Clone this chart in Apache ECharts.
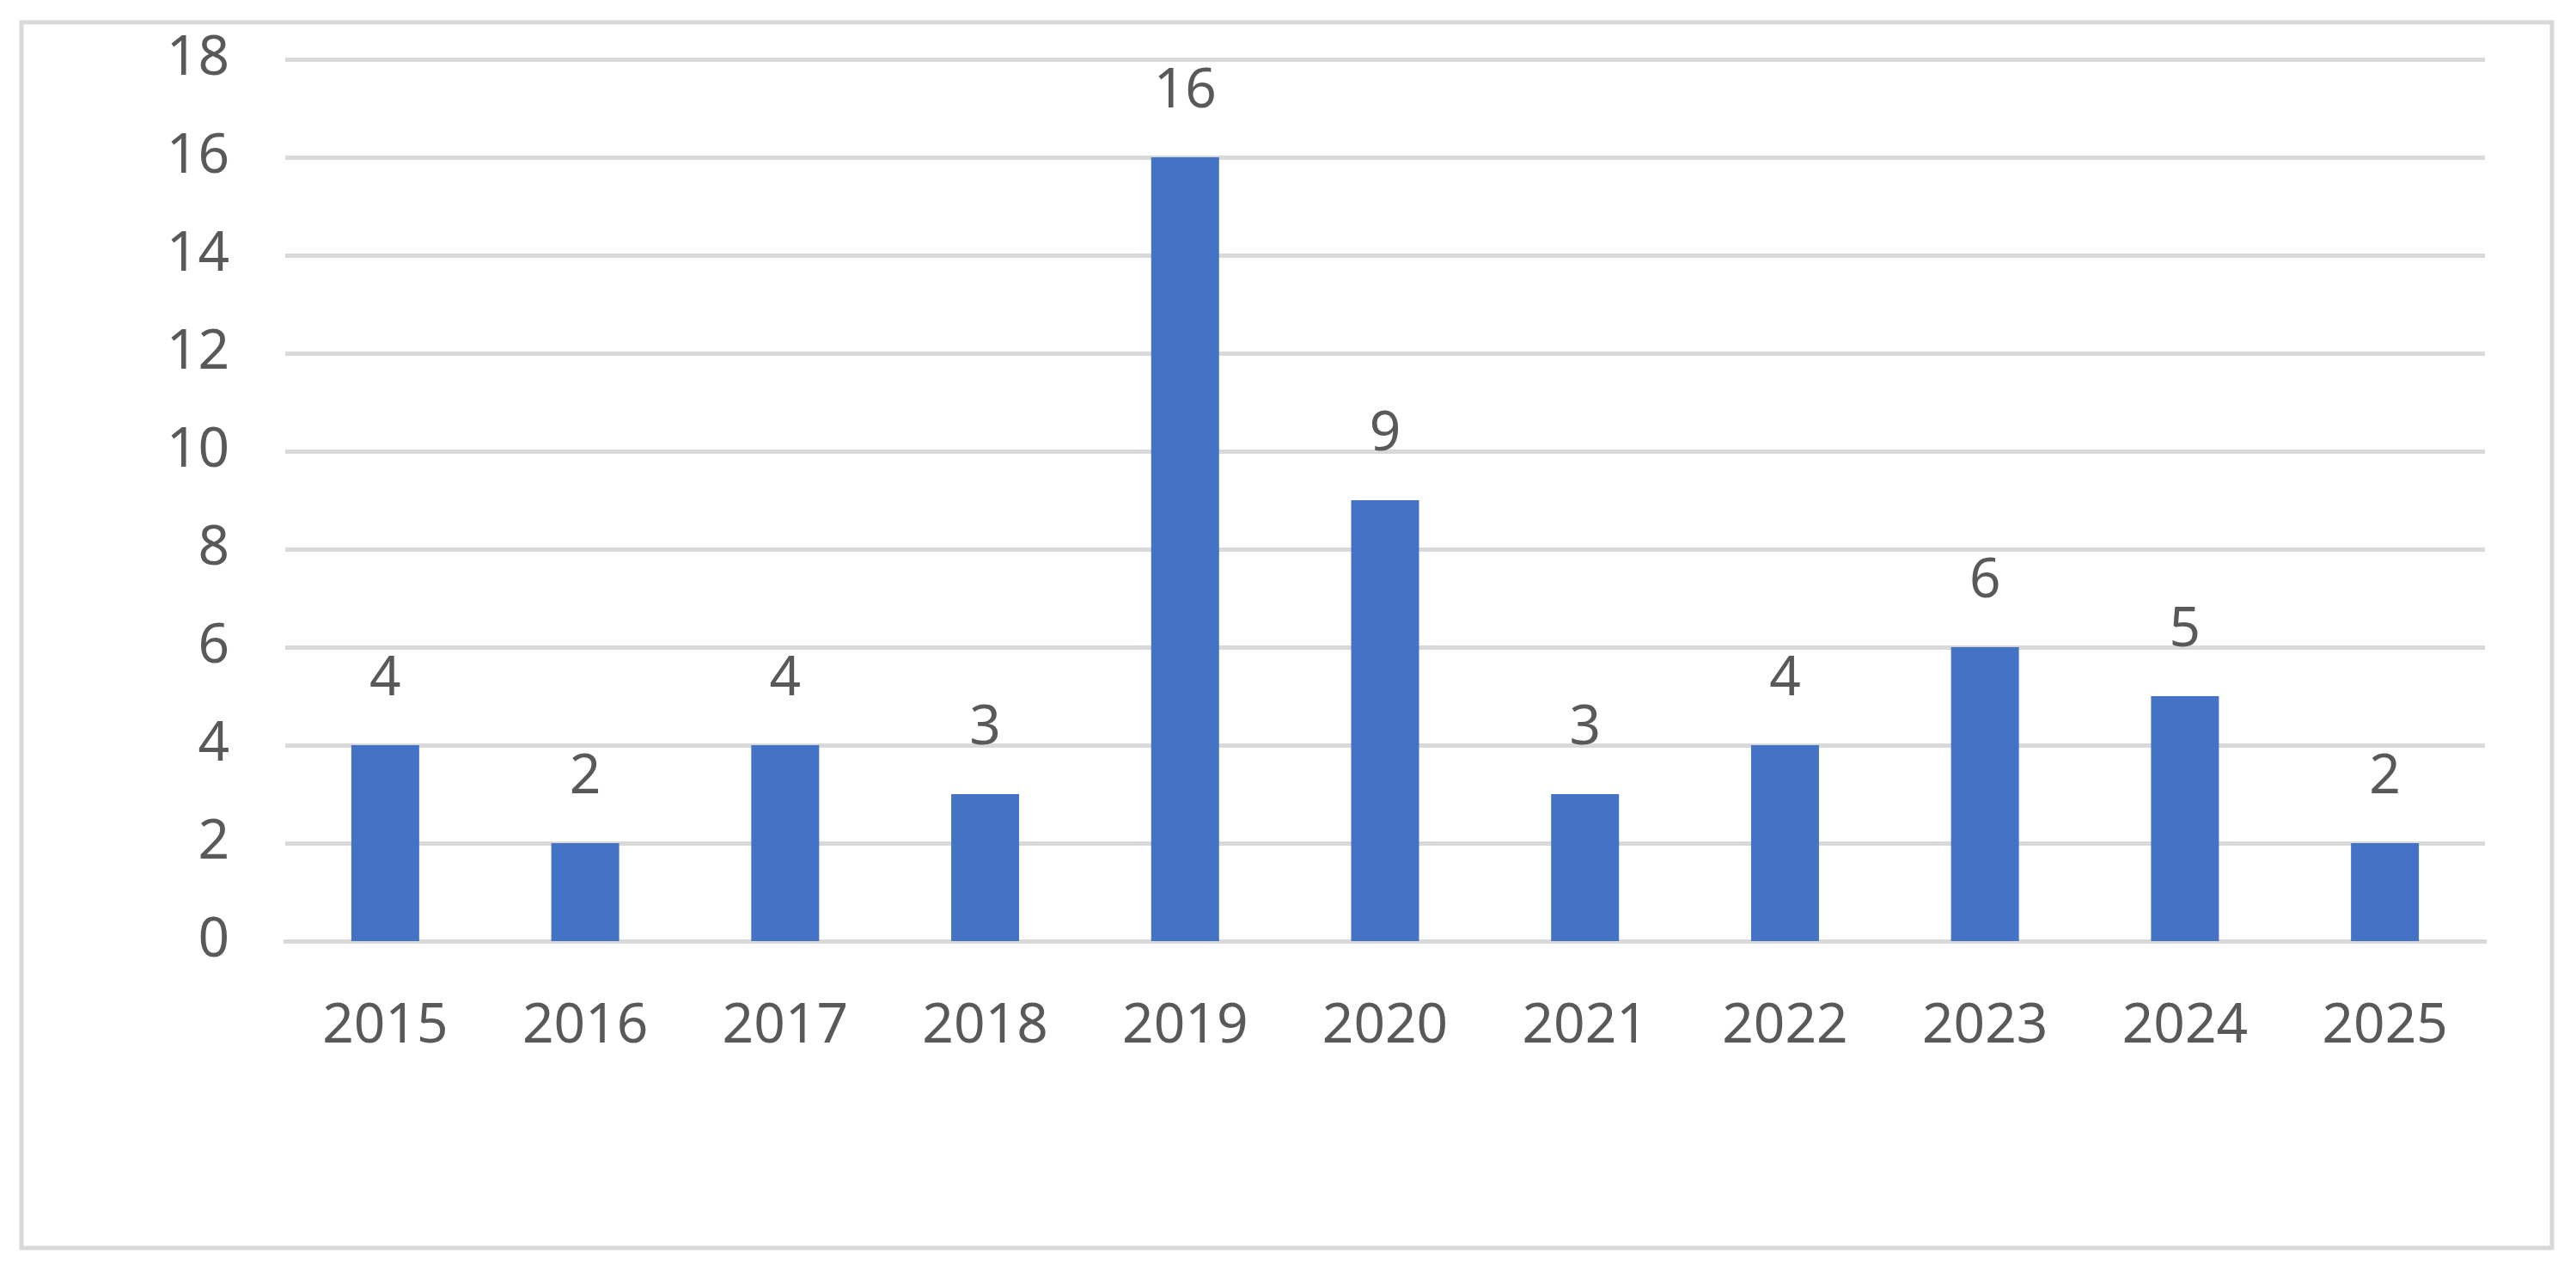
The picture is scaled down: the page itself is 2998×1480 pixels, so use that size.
<!DOCTYPE html>
<html>
<head>
<meta charset="utf-8">
<script src="https://cdn.jsdelivr.net/npm/echarts@6/dist/echarts.min.js"></script>
<style>
  html, body { margin: 0; padding: 0; background: #fff; }
  #chart { width: 2998px; height: 1480px; }
</style>
</head>
<body>
<div id="chart"></div>
<script>
const years = ['2015', '2016', '2017', '2018', '2019', '2020', '2021', '2022', '2023', '2024', '2025']
const counts = [4, 2, 4, 3, 16, 9, 3, 4, 6, 5, 2]
const yTicks = { min: 0, max: 18, step: 2 }

const textColor = '#595959'
const fontFamily = '"Noto Sans", "Liberation Sans", sans-serif'

const myChart = echarts.init(document.getElementById('chart'))
myChart.setOption({
  backgroundColor: '#fff',
  animation: false,
  // outer frame like the Excel chart area
  graphic: [{
    type: 'rect',
    shape: { x: 25, y: 26, width: 2945, height: 1426 },
    style: { fill: 'none', stroke: '#d9d9d9', lineWidth: 5 },
    silent: true
  }],
  grid: {
    left: 332,
    right: 2998 - 2892,
    top: 69,
    bottom: 1480 - 1095,
    containLabel: false
  },
  xAxis: {
    type: 'category',
    data: years,
    axisLine: { lineStyle: { color: '#d9d9d9', width: 5 } },
    axisTick: { show: false },
    axisLabel: {
      color: textColor,
      fontSize: 64,
      fontFamily: fontFamily,
      margin: 68
    }
  },
  yAxis: {
    type: 'value',
    min: yTicks.min,
    max: yTicks.max,
    interval: yTicks.step,
    axisLine: { show: false },
    axisTick: { show: false },
    splitLine: { lineStyle: { color: '#d9d9d9', width: 5 } },
    axisLabel: {
      color: textColor,
      fontSize: 64,
      fontFamily: fontFamily,
      margin: 65
    }
  },
  series: [{
    type: 'bar',
    data: counts,
    barWidth: 79,
    itemStyle: { color: '#4472c4' },
    label: {
      show: true,
      position: 'top',
      distance: 44,
      color: textColor,
      fontSize: 64,
      fontFamily: fontFamily
    }
  }]
})
</script>
</body>
</html>
